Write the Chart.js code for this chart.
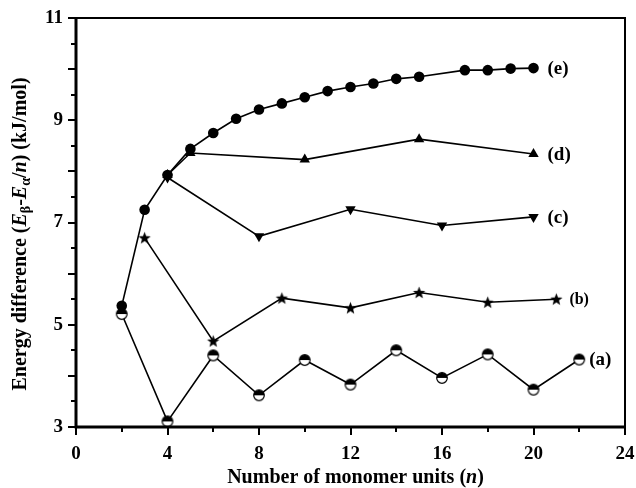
<!DOCTYPE html>
<html>
<head>
<meta charset="utf-8">
<script src="https://cdn.jsdelivr.net/npm/chart.js@4/dist/chart.umd.min.js"></script>
<style>
  html, body { margin: 0; padding: 0; background: #fff; }
  #wrap { width: 636px; height: 488px; position: relative; }
</style>
</head>
<body>
<div id="wrap"><canvas id="chart" width="636" height="488"></canvas></div>
<script>
// Energy difference per monomer unit versus chain length, five families of chains
const nA = [2, 4, 6, 8, 10, 12, 14, 16, 18, 20, 22];
const valA = [5.21, 3.11, 4.40, 3.62, 4.31, 3.83, 4.50, 3.96, 4.42, 3.73, 4.32];
const nB = [3, 6, 9, 12, 15, 18, 21];
const valB = [6.70, 4.68, 5.52, 5.33, 5.63, 5.44, 5.50];
const nC = [4, 8, 12, 16, 20];
const valC = [7.88, 6.73, 7.26, 6.94, 7.11];
const nD = [4, 5, 10, 15, 20];
const valD = [7.93, 8.36, 8.23, 8.63, 8.34];
const nE = [2, 3, 4, 5, 6, 7, 8, 9, 10, 11, 12, 13, 14, 15, 17, 18, 19, 20];
const valE = [5.37, 7.25, 7.93, 8.44, 8.75, 9.03, 9.21, 9.33, 9.45, 9.57, 9.65, 9.72, 9.81, 9.85, 9.98, 9.98, 10.01, 10.02];
const seriesLabels = ['(a)', '(b)', '(c)', '(d)', '(e)'];
const xTicks = [0, 4, 8, 12, 16, 20, 24];
const yTicks = [3, 5, 7, 9, 11];

const SERIF = '"Liberation Serif", "Times New Roman", serif';

function pairs(xs, ys) { return xs.map((x, i) => ({ x: x, y: ys[i] })); }

// Marker: circle with the upper half filled black
function halfCircleMarker(r) {
  const s = Math.ceil(2 * r + 3);
  const c = document.createElement('canvas');
  c.width = s; c.height = s;
  const g = c.getContext('2d');
  const m = s / 2;
  g.beginPath(); g.arc(m, m, r, 0, Math.PI * 2); g.fillStyle = '#fff'; g.fill();
  g.beginPath(); g.arc(m, m, r, Math.PI, 0); g.closePath(); g.fillStyle = '#000'; g.fill();
  g.beginPath(); g.arc(m, m, r, 0, Math.PI * 2); g.lineWidth = 1.2; g.strokeStyle = '#000'; g.stroke();
  return c;
}

// Marker: solid five-pointed star
function starMarker(R) {
  const s = Math.ceil(2 * R + 2);
  const c = document.createElement('canvas');
  c.width = s; c.height = s;
  const g = c.getContext('2d');
  const m = s / 2, r = R * 0.42;
  g.beginPath();
  for (let i = 0; i < 10; i++) {
    const a = -Math.PI / 2 + i * Math.PI / 5;
    const rr = i % 2 === 0 ? R : r;
    g.lineTo(m + rr * Math.cos(a), m + 0.5 + rr * Math.sin(a));
  }
  g.closePath(); g.fillStyle = '#000'; g.fill();
  return c;
}

const base = { borderColor: '#000', borderWidth: 1.6, backgroundColor: '#000', pointBorderColor: '#000', pointBackgroundColor: '#000', tension: 0, fill: false, clip: false };

const datasets = [
  Object.assign({}, base, { label: seriesLabels[4], data: pairs(nE, valE), pointStyle: 'circle', pointRadius: 5.3, pointBorderWidth: 0 }),
  Object.assign({}, base, { label: seriesLabels[3], data: pairs(nD, valD), pointStyle: 'triangle', pointRadius: 6, pointBorderWidth: 0 }),
  Object.assign({}, base, { label: seriesLabels[2], data: pairs(nC, valC), pointStyle: 'triangle', pointRotation: 180, pointRadius: 6, pointBorderWidth: 0 }),
  Object.assign({}, base, { label: seriesLabels[1], data: pairs(nB, valB), pointStyle: starMarker(6.5), pointRadius: 6 }),
  Object.assign({}, base, { label: seriesLabels[0], data: pairs(nA, valA), pointStyle: halfCircleMarker(5.3), pointRadius: 5 })
];

// End-of-line series labels
const labelStyle = {
  '(e)': { dx: 14, size: 19 },
  '(d)': { dx: 14, size: 19 },
  '(c)': { dx: 14, size: 19 },
  '(b)': { dx: 13, size: 16 },
  '(a)': { dx: 10, size: 19 }
};
const endLabels = {
  id: 'endLabels',
  afterDatasetsDraw(chart) {
    const ctx = chart.ctx;
    ctx.save();
    ctx.fillStyle = '#000';
    ctx.textBaseline = 'middle';
    ctx.textAlign = 'left';
    chart.data.datasets.forEach((ds, i) => {
      const pts = chart.getDatasetMeta(i).data;
      const p = pts[pts.length - 1];
      const st = labelStyle[ds.label];
      ctx.font = 'bold ' + st.size + 'px ' + SERIF;
      ctx.fillText(ds.label, p.x + st.dx, p.y + 1);
    });
    ctx.restore();
  }
};

// Frame and tick marks
const frameTicks = {
  id: 'frameTicks',
  afterDraw(chart) {
    const ctx = chart.ctx;
    const a = chart.chartArea;
    const xs = chart.scales.x, ys = chart.scales.y;
    ctx.save();
    ctx.strokeStyle = '#000';
    ctx.lineCap = 'butt';
    ctx.lineWidth = 2;
    ctx.beginPath();
    ctx.moveTo(a.left, a.top); ctx.lineTo(a.right, a.top); ctx.lineTo(a.right, a.bottom);
    ctx.stroke();
    ctx.lineWidth = 3;
    ctx.beginPath();
    ctx.moveTo(a.left, a.top - 1); ctx.lineTo(a.left, a.bottom); ctx.lineTo(a.right + 1, a.bottom);
    ctx.stroke();
    ctx.lineWidth = 2;
    for (let v = xs.min; v <= xs.max + 1e-9; v += 2) {
      const px = Math.round(xs.getPixelForValue(v));
      const len = (v % 4 === 0) ? 8 : 5;
      ctx.beginPath(); ctx.moveTo(px, a.bottom); ctx.lineTo(px, a.bottom + len); ctx.stroke();
    }
    for (let v = ys.min; v <= ys.max + 1e-9; v += 0.5) {
      const py = Math.round(ys.getPixelForValue(v));
      const len = (Math.abs(v - Math.round(v)) < 1e-6) ? 8 : 5;
      ctx.beginPath(); ctx.moveTo(a.left, py); ctx.lineTo(a.left - len, py); ctx.stroke();
    }
    ctx.restore();
  }
};

// Draws a run of text pieces with mixed style and subscripts, centred on (0,0)
function drawRich(ctx, parts, size) {
  const subSize = Math.round(size * 0.68);
  const fontOf = p => (p.italic ? 'italic bold ' : 'bold ') + (p.sub ? subSize : size) + 'px ' + SERIF;
  let total = 0;
  parts.forEach(p => { ctx.font = fontOf(p); p.w = ctx.measureText(p.t).width; total += p.w; });
  let x = -total / 2;
  ctx.textAlign = 'left';
  ctx.textBaseline = 'alphabetic';
  parts.forEach(p => {
    ctx.font = fontOf(p);
    ctx.fillText(p.t, x, p.sub ? 4 : 0);
    x += p.w;
  });
}

const axisTitles = {
  id: 'axisTitles',
  afterDraw(chart) {
    const ctx = chart.ctx;
    const a = chart.chartArea;
    ctx.save();
    ctx.fillStyle = '#000';
    ctx.translate((a.left + a.right) / 2 + 5, 483);
    drawRich(ctx, [
      { t: 'Number of monomer units (' },
      { t: 'n', italic: true },
      { t: ')' }
    ], 20);
    ctx.restore();

    ctx.save();
    ctx.fillStyle = '#000';
    ctx.translate(26, 234);
    ctx.rotate(-Math.PI / 2);
    drawRich(ctx, [
      { t: 'Energy difference (' },
      { t: 'E', italic: true },
      { t: '\u03B2', sub: true },
      { t: '-' },
      { t: 'E', italic: true },
      { t: '\u03B1', sub: true },
      { t: '/' },
      { t: 'n', italic: true },
      { t: ') (kJ/mol)' }
    ], 20);
    ctx.restore();
  }
};

new Chart(document.getElementById('chart'), {
  type: 'line',
  data: { datasets: datasets },
  options: {
    responsive: false,
    animation: false,
    events: [],
    layout: { padding: { top: 18, right: 11, left: 0, bottom: 0 } },
    plugins: { legend: { display: false }, tooltip: { enabled: false } },
    scales: {
      x: {
        type: 'linear', min: 0, max: 24,
        grid: { display: false, drawTicks: false },
        border: { display: false },
        afterBuildTicks: s => { s.ticks = xTicks.map(v => ({ value: v })); },
        afterFit: s => { s.height = 61; s.paddingLeft = 0; s.paddingRight = 0; },
        ticks: { color: '#000', padding: 16, maxRotation: 0, font: { family: SERIF, size: 19, weight: 'bold' } }
      },
      y: {
        type: 'linear', min: 3, max: 11,
        grid: { display: false, drawTicks: false },
        border: { display: false },
        afterBuildTicks: s => { s.ticks = yTicks.map(v => ({ value: v })); },
        afterFit: s => { s.width = 76; s.paddingTop = 0; s.paddingBottom = 0; },
        ticks: { color: '#000', padding: 13, font: { family: SERIF, size: 19, weight: 'bold' } }
      }
    }
  },
  plugins: [endLabels, frameTicks, axisTitles]
});
</script>
</body>
</html>
